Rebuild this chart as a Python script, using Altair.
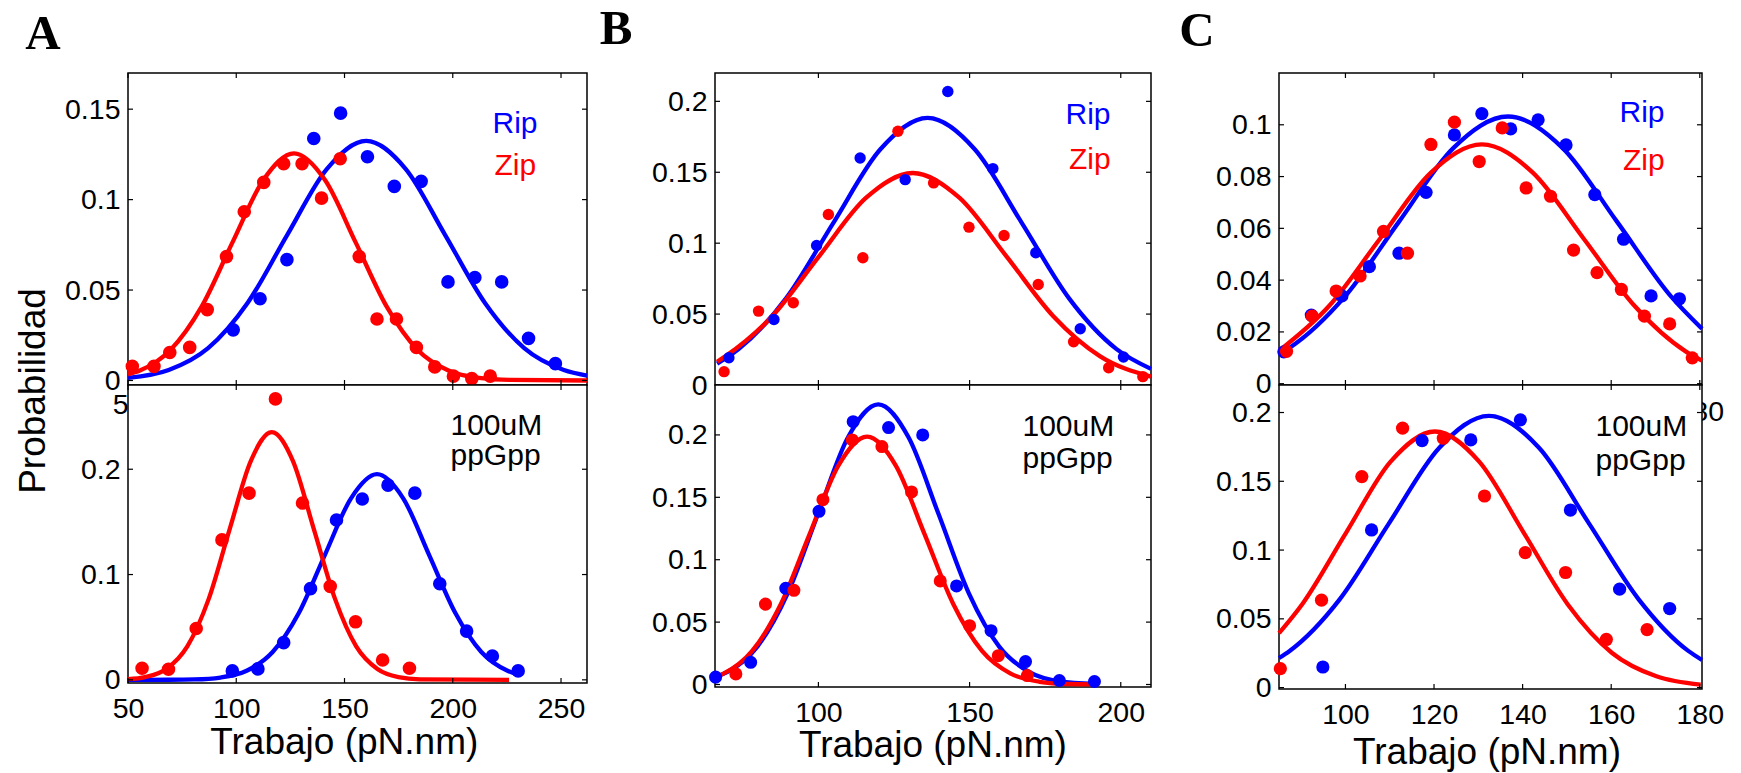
import altair as alt
import pandas as pd

FONT = "Liberation Sans"
SERIF = "Liberation Serif"
BLUE = "#0000ff"
RED = "#ff0000"

# ---------------- Panel A (top) ----------------
a_top_rip_x = [98.6, 111.0, 123.4, 135.8, 148.2, 160.6, 173.0, 185.4, 197.8, 210.2, 222.6, 235.0, 247.4]
a_top_rip_y = [0.028, 0.0452, 0.0668, 0.1338, 0.1478, 0.1237, 0.1073, 0.1101, 0.0545, 0.0569, 0.0545, 0.0233, 0.0093]
a_top_zip_x = [52.0, 62.0, 69.3, 78.5, 86.6, 95.5, 103.7, 112.7, 121.9, 130.4, 139.4, 148.0, 156.8, 165.0, 174.0, 183.2, 191.7, 200.3, 208.8, 217.3]
a_top_zip_y = [0.0078, 0.0078, 0.0155, 0.0183, 0.0392, 0.0685, 0.0933, 0.1095, 0.1198, 0.1198, 0.1008, 0.1226, 0.0685, 0.034, 0.034, 0.0183, 0.0075, 0.0024, 0.001, 0.0024]
a_top_rip_fit_x = [50, 68.8, 87, 105.3, 123.5, 141.8, 160, 178.3, 196.5, 214.8, 233, 251.3, 262]
a_top_rip_fit_y = [0.0014, 0.0058, 0.0179, 0.0430, 0.0804, 0.1169, 0.1325, 0.1169, 0.0804, 0.0430, 0.0179, 0.0058, 0.0027]
a_top_zip_fit_x = [50, 55.5, 69.7, 84, 98.2, 112.5, 126.7, 141, 155.2, 169.5, 183.7, 198, 212.2, 226.5, 262]
a_top_zip_fit_y = [0.0034, 0.0055, 0.0170, 0.0408, 0.0762, 0.1108, 0.1256, 0.1108, 0.0762, 0.0408, 0.0170, 0.0055, 0.0014, 0.0003, 0.0]

# ---------------- Panel A (bottom, 100uM ppGpp) ----------------
a_bot_rip_x = [98.2, 110.0, 121.9, 134.3, 146.3, 158.2, 170.1, 182.5, 194.0, 206.4, 218.3, 230.2]
a_bot_rip_y = [0.0085, 0.0104, 0.0353, 0.0866, 0.1518, 0.1717, 0.1849, 0.1773, 0.0913, 0.0463, 0.0227, 0.0085]
a_bot_zip_x = [56.5, 68.7, 81.5, 93.4, 105.9, 118.1, 130.6, 143.4, 155.1, 167.6, 180.0]
a_bot_zip_y = [0.011, 0.0101, 0.0488, 0.1329, 0.1773, 0.2668, 0.1679, 0.0888, 0.0551, 0.0189, 0.011]
a_bot_rip_fit_x = [50, 68.6, 80.7, 92.7, 104.8, 116.8, 128.9, 140.9, 153, 165, 177.1, 189.1, 201.2, 213.2, 225.3, 230]
a_bot_rip_fit_y = [0.0, 0.0001, 0.0004, 0.0022, 0.0086, 0.0264, 0.0634, 0.1185, 0.1724, 0.1953, 0.1724, 0.1185, 0.0634, 0.0264, 0.0086, 0.0051]
a_bot_zip_fit_x = [50, 57.9, 67.7, 77.4, 87.2, 96.9, 106.7, 116.4, 126.2, 135.9, 145.7, 155.4, 165.2, 174.9, 184.7, 226]
a_bot_zip_fit_y = [0.0007, 0.0026, 0.0103, 0.0318, 0.0764, 0.1427, 0.2077, 0.2353, 0.2077, 0.1427, 0.0764, 0.0318, 0.0103, 0.0026, 0.0005, 0.0]

# ---------------- Panel B (top) ----------------
b_top_rip_x = [70.4, 85.3, 99.4, 113.8, 128.7, 142.8, 157.7, 171.9, 186.6, 200.9]
b_top_rip_y = [0.0192, 0.0462, 0.0984, 0.1601, 0.1448, 0.207, 0.1526, 0.0932, 0.0397, 0.0197]
b_top_zip_x = [68.8, 80.2, 91.7, 103.3, 114.7, 126.3, 138.1, 149.8, 161.4, 172.7, 184.4, 196.0, 207.3]
b_top_zip_y = [0.0094, 0.0521, 0.058, 0.1202, 0.0897, 0.1789, 0.1425, 0.1113, 0.1054, 0.0709, 0.0305, 0.0122, 0.0059]
b_top_rip_fit_x = [66.5, 73.7, 89.3, 104.9, 120.5, 136.1, 151.7, 167.3, 182.9, 198.5, 210]
b_top_rip_fit_y = [0.0151, 0.0255, 0.0611, 0.1142, 0.1662, 0.1883, 0.1662, 0.1142, 0.0611, 0.0255, 0.0114]
b_top_zip_fit_x = [66.5, 69.2, 84.7, 100.2, 115.7, 131.2, 146.7, 162.2, 177.7, 193.2, 210]
b_top_zip_fit_y = [0.0164, 0.0202, 0.0485, 0.0907, 0.1319, 0.1495, 0.1319, 0.0907, 0.0485, 0.0202, 0.0059]

# ---------------- Panel B (bottom, 100uM ppGpp) ----------------
b_bot_rip_x = [66.0, 77.6, 89.2, 100.2, 111.5, 123.2, 134.5, 145.7, 157.1, 168.5, 179.7, 191.3]
b_bot_rip_y = [0.0059, 0.0178, 0.0771, 0.1388, 0.2106, 0.2059, 0.2, 0.079, 0.0431, 0.0184, 0.0032, 0.0024]
b_bot_zip_x = [72.7, 82.5, 91.9, 101.5, 111.2, 121.0, 130.8, 140.3, 150.0, 159.5, 169.1]
b_bot_zip_y = [0.0085, 0.0644, 0.0755, 0.1481, 0.196, 0.1907, 0.1543, 0.083, 0.0471, 0.0231, 0.0072]
b_bot_rip_fit_x = [66, 69.8, 79.8, 89.8, 99.8, 109.8, 119.8, 129.8, 139.8, 149.8, 159.8, 169.8, 179.8, 191.3]
b_bot_rip_fit_y = [0.006, 0.0099, 0.0304, 0.0729, 0.1362, 0.1981, 0.2245, 0.1981, 0.1362, 0.0729, 0.0304, 0.0099, 0.0025, 0.0004]
b_bot_zip_fit_x = [66, 68.6, 78.1, 87.6, 97.1, 106.6, 116.1, 125.6, 135.1, 144.6, 154.1, 163.6, 173.1, 182.6, 191.3]
b_bot_zip_fit_y = [0.0061, 0.0087, 0.0269, 0.0645, 0.1205, 0.1754, 0.1987, 0.1754, 0.1205, 0.0645, 0.0269, 0.0087, 0.0022, 0.0004, 0.0001]

# ---------------- Panel C (top) ----------------
c_top_rip_x = [86.1, 92.3, 99.2, 105.4, 112.1, 118.2, 124.6, 130.8, 137.3, 143.5, 149.8, 156.3, 162.8, 169.0, 175.4]
c_top_rip_y = [0.0123, 0.0265, 0.0339, 0.0452, 0.0504, 0.0739, 0.0961, 0.1043, 0.0984, 0.1019, 0.0922, 0.073, 0.0558, 0.0339, 0.0328]
c_top_zip_x = [86.7, 92.5, 97.9, 103.3, 108.6, 114.0, 119.3, 124.6, 130.2, 135.4, 140.8, 146.3, 151.5, 156.8, 162.3, 167.5, 173.2, 178.3]
c_top_zip_y = [0.0125, 0.0261, 0.0358, 0.0416, 0.0588, 0.0504, 0.0924, 0.101, 0.0858, 0.0988, 0.0756, 0.0724, 0.0516, 0.0429, 0.0364, 0.0261, 0.0231, 0.01]
c_top_rip_fit_x = [85, 87.5, 99.8, 112.1, 124.4, 136.7, 149, 161.3, 173.6, 180.5]
c_top_rip_fit_y = [0.0114, 0.014, 0.0335, 0.0626, 0.0911, 0.1032, 0.0911, 0.0626, 0.0335, 0.0212]
c_top_zip_fit_x = [85, 96.3, 107.8, 119.3, 130.8, 142.3, 153.8, 165.3, 176.8, 180.5]
c_top_zip_fit_y = [0.0127, 0.030, 0.056, 0.0815, 0.0924, 0.0815, 0.056, 0.030, 0.0125, 0.0089]

# ---------------- Panel C (bottom, 100uM ppGpp) ----------------
c_bot_rip_x = [94.9, 105.9, 117.3, 128.3, 139.5, 150.8, 161.9, 173.2]
c_bot_rip_y = [0.015, 0.1146, 0.1796, 0.1801, 0.1947, 0.1291, 0.0716, 0.0575]
c_bot_zip_x = [85.3, 94.6, 103.7, 112.9, 122.1, 131.4, 140.6, 149.7, 158.9, 168.1]
c_bot_zip_y = [0.0138, 0.0636, 0.1534, 0.1886, 0.1813, 0.1393, 0.0981, 0.0837, 0.035, 0.0422]
c_bot_rip_fit_x = [85, 87.4, 98.7, 109.9, 121.2, 132.4, 143.7, 154.9, 166.2, 177.4, 180.5]
c_bot_rip_fit_y = [0.0215, 0.0267, 0.0642, 0.1198, 0.1744, 0.1976, 0.1744, 0.1198, 0.0642, 0.0267, 0.0201]
c_bot_zip_fit_x = [85, 90.2, 100.2, 110.2, 120.2, 130.2, 140.2, 150.2, 160.2, 170.2, 180.2]
c_bot_zip_fit_y = [0.0396, 0.0605, 0.1129, 0.1643, 0.1862, 0.1643, 0.1129, 0.0605, 0.0252, 0.0082, 0.0021]

# tick values
a_xticks = [50, 100, 150, 200, 250]
b_xticks = [100, 150, 200]
c_xticks = [100, 120, 140, 160, 180]
a_top_xlabels = [50]      # the rest of the top panel's labels lie under the lower panel
b_top_xlabels = []
c_top_xlabels = [180]
a_top_yticks = [0, 0.05, 0.1, 0.15]
a_bot_yticks = [0, 0.1, 0.2]
b_top_yticks = [0, 0.05, 0.1, 0.15, 0.2]
b_bot_yticks = [0, 0.05, 0.1, 0.15, 0.2]
c_top_yticks = [0, 0.02, 0.04, 0.06, 0.08, 0.1]
c_bot_yticks = [0, 0.05, 0.1, 0.15, 0.2]

TICK = 5
LABEL_SIZE = 28.5


def label(text, x, y, color="black", size=29, font=FONT, weight="normal",
          align="left", angle=0, baseline="alphabetic"):
    return alt.Chart(pd.DataFrame({"t": [text]})).mark_text(
        align=align, baseline=baseline, font=font, fontSize=size,
        fontWeight=weight, color=color, angle=angle
    ).encode(x=alt.value(x), y=alt.value(y), text="t:N")


def panel(w, h, xdom, ydom, xt, xlab, yt, rip_pts, zip_pts, rip_fit, zip_fit,
          psize, xlab_pad, extras):
    xs = alt.Scale(domain=xdom, nice=False, zero=False)
    ys = alt.Scale(domain=ydom, nice=False, zero=False)
    xax_kw = dict(format="d", title=None, ticks=False, tickSize=0,
                  domain=False, grid=False, labelFont=FONT, labelFontSize=LABEL_SIZE,
                  labelColor="black", labelPadding=xlab_pad, labelFlush=False,
                  labelOverlap=False, labelBound=False)
    if len(xlab) > 0:
        xax = alt.Axis(values=xlab, **xax_kw)
    else:
        xax = alt.Axis(labels=False, **xax_kw)
    yax = alt.Axis(values=yt, format=".2~f", title=None, ticks=False, tickSize=0,
                   domain=False, grid=False, labelFont=FONT, labelFontSize=LABEL_SIZE,
                   labelColor="black", labelPadding=8, labelFlush=False,
                   labelOverlap=False, labelBound=False)

    def X(f):
        return alt.X(f, type="quantitative", scale=xs, axis=xax)

    def Y(f):
        return alt.Y(f, type="quantitative", scale=ys, axis=yax)

    layers = []
    for (cx, cy), col in [(rip_fit, BLUE), (zip_fit, RED)]:
        df = pd.DataFrame({"x": cx, "y": cy})
        layers.append(alt.Chart(df).mark_line(color=col, strokeWidth=4.3,
                                              interpolate="monotone")
                      .encode(x=X("x"), y=Y("y")))
    for (px, py), col in [(rip_pts, BLUE), (zip_pts, RED)]:
        df = pd.DataFrame({"x": px, "y": py})
        layers.append(alt.Chart(df).mark_circle(color=col, opacity=1, size=psize)
                      .encode(x=X("x"), y=Y("y")))
    xtdf = pd.DataFrame({"v": xt})
    ytdf = pd.DataFrame({"v": yt})
    rule = dict(color="black", strokeWidth=1.2)
    layers.append(alt.Chart(xtdf).mark_rule(**rule).encode(
        x=X("v"), y=alt.value(h), y2=alt.value(h - TICK)))
    layers.append(alt.Chart(xtdf).mark_rule(**rule).encode(
        x=X("v"), y=alt.value(0), y2=alt.value(TICK)))
    layers.append(alt.Chart(ytdf).mark_rule(**rule).encode(
        y=Y("v"), x=alt.value(0), x2=alt.value(TICK)))
    layers.append(alt.Chart(ytdf).mark_rule(**rule).encode(
        y=Y("v"), x=alt.value(w), x2=alt.value(w - TICK)))
    return alt.layer(*layers, *extras).properties(width=w, height=h)


WA, WB, WC = 459, 436, 423
HTOP = 312

anchor = alt.Chart(pd.DataFrame({"a": [0]})).mark_rule(
    opacity=0, color="white").encode(
    x=alt.value(-126.7), x2=alt.value(-126.7), y=alt.value(-72), y2=alt.value(-71))

a_top = panel(
    WA, HTOP, [50, 262], [-0.0025, 0.17], a_xticks, a_top_xlabels, a_top_yticks,
    (a_top_rip_x, a_top_rip_y), (a_top_zip_x, a_top_zip_y),
    (a_top_rip_fit_x, a_top_rip_fit_y), (a_top_zip_fit_x, a_top_zip_fit_y),
    185, 5,
    [anchor,
     label("A", -102.7, -24, size=49, font=SERIF, weight="bold"),
     label("Rip", 364.5, 60, BLUE, size=30),
     label("Zip", 366.5, 102, RED, size=30),
     label("Probabilidad", -83.4, 318, size=37, align="center", angle=270)])

a_bot = panel(
    WA, 298, [50, 262], [-0.003, 0.28], a_xticks, a_xticks, a_bot_yticks,
    (a_bot_rip_x, a_bot_rip_y), (a_bot_zip_x, a_bot_zip_y),
    (a_bot_rip_fit_x, a_bot_rip_fit_y), (a_bot_zip_fit_x, a_bot_zip_fit_y),
    185, 11,
    [label("100uM", 322.5, 50, size=30),
     label("ppGpp", 322.5, 80, size=30),
     label("Trabajo (pN.nm)", 216.3, 368.5, size=37, align="center")])

b_top = panel(
    WB, HTOP, [65.8, 210], [0, 0.22], b_xticks, b_top_xlabels, b_top_yticks,
    (b_top_rip_x, b_top_rip_y), (b_top_zip_x, b_top_zip_y),
    (b_top_rip_fit_x, b_top_rip_fit_y), (b_top_zip_fit_x, b_top_zip_fit_y),
    130, 11,
    [label("B", -115.2, -29, size=49, font=SERIF, weight="bold"),
     label("Rip", 350.5, 51, BLUE, size=30),
     label("Zip", 354, 96, RED, size=30)])

b_bot = panel(
    WB, 302, [65.8, 210], [-0.002, 0.24], b_xticks, b_xticks, b_bot_yticks,
    (b_bot_rip_x, b_bot_rip_y), (b_bot_zip_x, b_bot_zip_y),
    (b_bot_rip_fit_x, b_bot_rip_fit_y), (b_bot_zip_fit_x, b_bot_zip_fit_y),
    170, 11,
    [label("100uM", 307.5, 51, size=30),
     label("ppGpp", 307.5, 82.5, size=30),
     label("Trabajo (pN.nm)", 217.9, 371.5, size=37, align="center")])

c_top = panel(
    WC, HTOP, [85, 180.5], [-0.0005, 0.12], c_xticks, c_top_xlabels, c_top_yticks,
    (c_top_rip_x, c_top_rip_y), (c_top_zip_x, c_top_zip_y),
    (c_top_rip_fit_x, c_top_rip_fit_y), (c_top_zip_fit_x, c_top_zip_fit_y),
    175, 12,
    [label("C", -99.7, -27, size=49, font=SERIF, weight="bold"),
     label("Rip", 340.5, 49, BLUE, size=30),
     label("Zip", 344, 97, RED, size=30)])

c_bot = panel(
    WC, 304, [85, 180.5], [-0.001, 0.22], c_xticks, c_xticks, c_bot_yticks,
    (c_bot_rip_x, c_bot_rip_y), (c_bot_zip_x, c_bot_zip_y),
    (c_bot_rip_fit_x, c_bot_rip_fit_y), (c_bot_zip_fit_x, c_bot_zip_fit_y),
    175, 11,
    [label("100uM", 316.5, 51, size=30),
     label("ppGpp", 316.5, 84.5, size=30),
     label("Trabajo (pN.nm)", 208, 378.5, size=37, align="center")])

chart = alt.concat(
    a_top, b_top, c_top, a_bot, b_bot, c_bot,
    columns=3, spacing={"row": 0, "column": 128}, bounds="flush"
).properties(
    padding=0, background="white"
).configure_view(stroke="black", strokeWidth=1.5, fill="white")

chart.save("out.html", embed_options={"renderer": "svg", "actions": False})
